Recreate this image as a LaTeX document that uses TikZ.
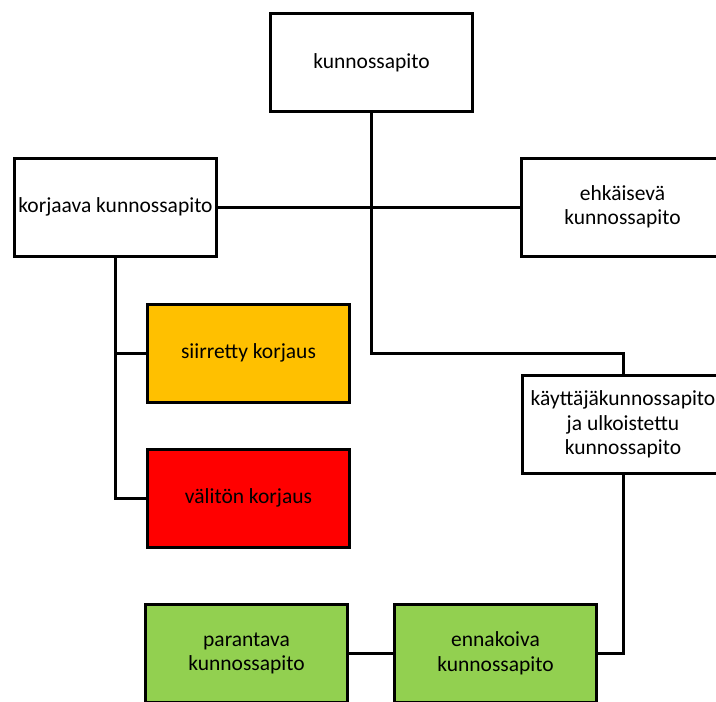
\documentclass[tikz,border=0pt]{standalone}
\usepackage{fontspec}
\setmainfont{Carlito}
\definecolor{orng}{HTML}{FFC000}
\definecolor{rd}{HTML}{FF0000}
\definecolor{grn}{HTML}{92D050}
\begin{document}
\begin{tikzpicture}[x=1pt,y=-1pt,
  box/.style={draw=black,line width=3pt,fill=white,minimum width=202pt,minimum height=98pt,
    align=center,inner sep=2pt,font=\fontsize{21.5}{24.5}\selectfont},
  conn/.style={line width=3pt}]
\useasboundingbox (0,0) rectangle (716,702);
\clip (0,0) rectangle (716,702);
\node[box] (top) at (371.5,62.5) {kunnossapito};
\node[box] (kor) at (115.5,207) {korjaava kunnossapito};
\node[box] (ehk) at (622.5,207) {ehkäisevä\\kunnossapito};
\node[box,fill=orng] (sii) at (248.5,353) {siirretty korjaus};
\node[box,fill=rd] (val) at (248.5,498) {välitön korjaus};
\node[box] (kay) at (623,424.5) {käyttäjäkunnossapito\\ja ulkoistettu\\kunnossapito};
\node[box,fill=grn] (par) at (246.5,653.5) {parantava\\kunnossapito};
\node[box,fill=grn] (enn) at (495.5,653.5) {ennakoiva\\kunnossapito};
\draw[conn] (kor.east) -- (ehk.west);
\draw[conn] (top.south) -- (top.south |- sii.west) -| (kay.north);
\draw[conn] (kor.south) |- (val.west);
\draw[conn] (kor.south |- sii.west) -- (sii.west);
\draw[conn] (kay.south) |- (enn.east);
\draw[conn] (par.east) -- (enn.west);
\end{tikzpicture}
\end{document}
